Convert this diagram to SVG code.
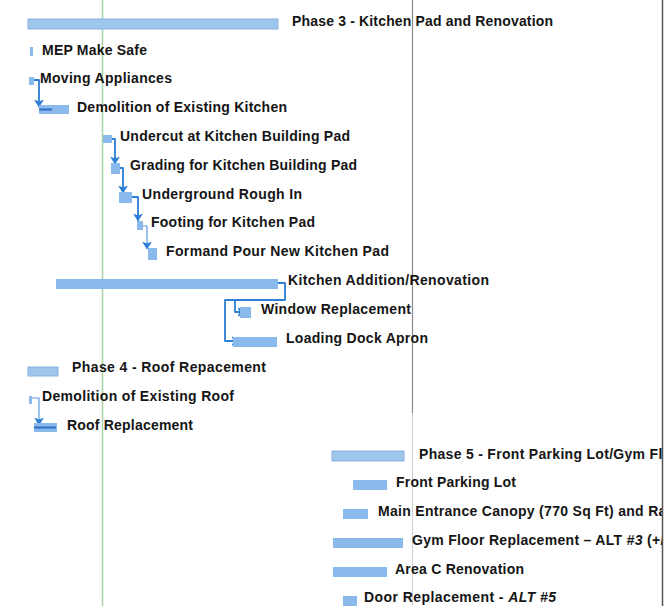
<svg xmlns="http://www.w3.org/2000/svg" width="666" height="606" viewBox="0 0 666 606">
<style>
.bg{fill:#ffffff}
.bar{fill:#8ab9ec}
.sum{fill:#9ec5ea;stroke:#86b3e0;stroke-width:1}
.prog{fill:#2f6fc4}
.lbl{font-family:"Liberation Sans",Arial,sans-serif;font-weight:bold;font-size:14px;fill:#151515}
.con{fill:none;stroke:#2d7ed6;stroke-width:1.8;stroke-linejoin:round}
.con2{fill:none;stroke:#5a9be2;stroke-width:1.2}
</style>
<defs>
<marker id="ah" viewBox="0 0 8 10" refX="7.5" refY="5" markerWidth="8" markerHeight="10" markerUnits="userSpaceOnUse" orient="auto">
<path d="M0,0 L8,5 L0,10 L2,5 z" fill="#2d7ed6"/>
</marker>
<clipPath id="clipR"><rect x="0" y="0" width="662" height="606"/></clipPath>
</defs>
<rect class="bg" x="0" y="0" width="666" height="606"/>
<g id="gridlines">
<line x1="102.5" y1="0" x2="102.5" y2="606" stroke="#a9d4a3" stroke-width="1.5"/>
<line x1="412.5" y1="0" x2="412.5" y2="413" stroke="#8a8a8a" stroke-width="1.2"/>
<line x1="412.5" y1="413" x2="412.5" y2="606" stroke="#d0d0d0" stroke-width="1"/>
<line x1="662.5" y1="0" x2="662.5" y2="606" stroke="#555555" stroke-width="1.5"/>
</g>
<g id="connectors">
<path class="con" d="M34,80 H39 V107" marker-end="url(#ah)"/>
<path class="con" d="M112,139 H115 V164" marker-end="url(#ah)"/>
<path class="con" d="M120,168 H123 V193" marker-end="url(#ah)"/>
<path class="con" d="M132,197 H138 V221" marker-end="url(#ah)"/>
<path class="con2" d="M143,226 H147 V249" marker-end="url(#ah)"/>
<path class="con" d="M278,283 H285 V300 H235 V312 H245" marker-end="url(#ah)"/>
<path class="con" d="M235,300 H225 V341 H239" marker-end="url(#ah)"/>
<path class="con2" d="M32,398 H39 V425" marker-end="url(#ah)"/>
</g>
<g id="phase3">
<rect class="sum" x="28" y="19" width="250" height="10"/>
<text class="lbl" x="292" y="26" textLength="261">Phase 3 - Kitchen Pad and Renovation</text>
</g>
<g id="mep">
<rect class="bar" x="30" y="47" width="3" height="9" fill="#5c9de2"/>
<text class="lbl" x="42" y="55" textLength="105">MEP Make Safe</text>
</g>
<g id="moving">
<rect class="bar" x="29" y="77" width="5" height="8"/>
<text class="lbl" x="40" y="83" textLength="132">Moving Appliances</text>
</g>
<g id="demo-kitchen">
<rect class="bar" x="39" y="105" width="30" height="9"/>
<rect class="prog" x="39" y="108.5" width="13" height="2"/>
<text class="lbl" x="77" y="112" textLength="210">Demolition of Existing Kitchen</text>
</g>
<g id="undercut">
<rect class="bar" x="103" y="135" width="9" height="8"/>
<text class="lbl" x="120" y="141" textLength="230">Undercut at Kitchen Building Pad</text>
</g>
<g id="grading">
<rect class="bar" x="111" y="163" width="9" height="11"/>
<text class="lbl" x="130" y="170" textLength="227">Grading for Kitchen Building Pad</text>
</g>
<g id="underground">
<rect class="bar" x="119" y="192" width="13" height="11"/>
<text class="lbl" x="142" y="199" textLength="160">Underground Rough In</text>
</g>
<g id="footing">
<rect class="bar" x="137" y="221" width="6" height="9"/>
<text class="lbl" x="151" y="227" textLength="164">Footing for Kitchen Pad</text>
</g>
<g id="form-pour">
<rect class="bar" x="148" y="248" width="9" height="12"/>
<text class="lbl" x="166" y="256" textLength="223">Formand Pour New Kitchen Pad</text>
</g>
<g id="kitchen-addition">
<rect class="bar" x="56" y="279" width="222" height="10"/>
<text class="lbl" x="288" y="285" textLength="201">Kitchen Addition/Renovation</text>
</g>
<g id="window">
<rect class="bar" x="240" y="307" width="11" height="11"/>
<text class="lbl" x="261" y="314" textLength="150">Window Replacement</text>
</g>
<g id="loading-dock">
<rect class="bar" x="233" y="337" width="44" height="10"/>
<text class="lbl" x="286" y="343" textLength="142">Loading Dock Apron</text>
</g>
<g id="phase4">
<rect class="sum" x="28" y="367" width="30" height="9"/>
<text class="lbl" x="72" y="372" textLength="194">Phase 4 - Roof Repacement</text>
</g>
<g id="demo-roof">
<rect class="bar" x="29" y="396" width="3" height="8" fill="#5c9de2"/>
<text class="lbl" x="42" y="401" textLength="192">Demolition of Existing Roof</text>
</g>
<g id="roof-replacement">
<rect class="bar" x="34" y="423" width="23" height="9"/>
<rect class="prog" x="34" y="426.5" width="22" height="2"/>
<text class="lbl" x="67" y="430" textLength="126">Roof Replacement</text>
</g>
<g id="phase5">
<rect class="sum" x="332" y="451" width="72" height="10"/>
<text class="lbl" x="419" y="459" clip-path="url(#clipR)" letter-spacing="0.3">Phase 5 - Front Parking Lot/Gym Flo</text>
</g>
<g id="front-parking">
<rect class="bar" x="353" y="480" width="34" height="10"/>
<text class="lbl" x="396" y="487" textLength="120">Front Parking Lot</text>
</g>
<g id="main-entrance">
<rect class="bar" x="343" y="509" width="25" height="10"/>
<text class="lbl" x="378" y="516" clip-path="url(#clipR)" letter-spacing="0.3">Main Entrance Canopy (770 Sq Ft) and Ra</text>
</g>
<g id="gym-floor">
<rect class="bar" x="333" y="538" width="70" height="10"/>
<text class="lbl" x="412" y="545" clip-path="url(#clipR)" letter-spacing="0.3">Gym Floor Replacement – ALT <tspan font-style="italic">#3</tspan> (+/</text>
</g>
<g id="area-c">
<rect class="bar" x="333" y="567" width="54" height="10"/>
<text class="lbl" x="395" y="574" textLength="129">Area C Renovation</text>
</g>
<g id="door">
<rect class="bar" x="343" y="596" width="14" height="10"/>
<text class="lbl" x="364" y="602" textLength="192">Door Replacement - <tspan font-style="italic">ALT #5</tspan></text>
</g>
</svg>
